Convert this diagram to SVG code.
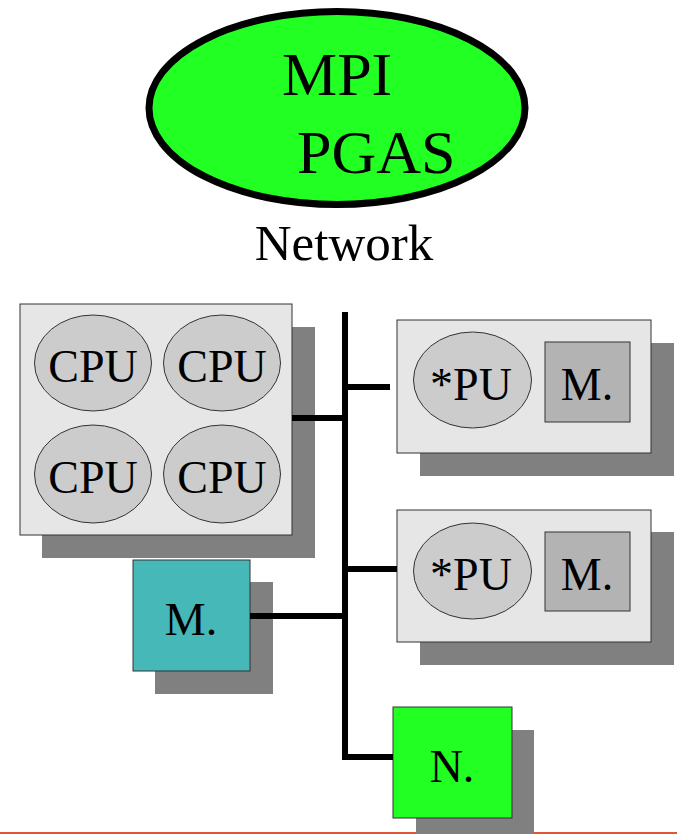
<svg xmlns="http://www.w3.org/2000/svg" width="677" height="834" viewBox="0 0 677 834">
<style>
.sh{fill:#808080}
.box{fill:#e6e6e6;stroke:#333;stroke-width:1}
.el{fill:#cccccc;stroke:#333;stroke-width:1}
.mem{fill:#b3b3b3;stroke:#333;stroke-width:1}
.wire{stroke:#000;stroke-width:6;fill:none}
</style>
<rect x="0" y="0" width="677" height="834" fill="#fff"/>
<rect x="0" y="832" width="677" height="2" fill="#e2553a"/>
<g id="mpi">
<ellipse cx="337" cy="108" rx="188" ry="96.5" fill="#22ff22" stroke="#000" stroke-width="7"/>
<text x="282" y="95" font-size="62" font-family="Liberation Serif, serif">MPI</text>
<text x="297" y="173" font-size="62" font-family="Liberation Serif, serif">PGAS</text>
</g>
<g id="network-label"><text x="344" y="260" font-size="51" text-anchor="middle" font-family="Liberation Serif, serif">Network</text></g>
<g id="cpu-node">
<rect class="sh" x="42" y="327" width="273" height="231"/>
<rect class="box" x="20" y="304" width="272" height="231"/>
<ellipse class="el" cx="93" cy="363" rx="58.5" ry="48"/>
<ellipse class="el" cx="222" cy="363" rx="58.5" ry="48"/>
<ellipse class="el" cx="93" cy="474" rx="58.5" ry="49"/>
<ellipse class="el" cx="222" cy="474" rx="58.5" ry="49"/>
<g font-family="Liberation Serif, serif" font-size="46" text-anchor="middle">
<text x="93" y="382">CPU</text>
<text x="222" y="382">CPU</text>
<text x="93" y="493">CPU</text>
<text x="222" y="493">CPU</text>
</g>
</g>
<g id="pu-node-1">
<rect class="sh" x="420" y="343" width="254" height="133"/>
<rect class="box" x="397" y="320" width="254" height="133"/>
<ellipse class="el" cx="472.5" cy="380" rx="59" ry="48"/>
<rect class="mem" x="545" y="342" width="85" height="80"/>
<g font-family="Liberation Serif, serif" font-size="46" text-anchor="middle">
<text x="471" y="400">*PU</text>
<text x="587" y="400">M.</text>
</g>
</g>
<g id="pu-node-2">
<rect class="sh" x="420" y="532" width="254" height="133"/>
<rect class="box" x="397" y="510" width="254" height="132"/>
<ellipse class="el" cx="472.5" cy="571" rx="59" ry="48"/>
<rect class="mem" x="545" y="532" width="85" height="79"/>
<g font-family="Liberation Serif, serif" font-size="46" text-anchor="middle">
<text x="471" y="590">*PU</text>
<text x="587" y="590">M.</text>
</g>
</g>
<g id="memory-node">
<rect class="sh" x="155" y="582" width="118" height="112"/>
<rect x="133" y="560" width="117" height="111" fill="#47b8b8" stroke="#333" stroke-width="1"/>
<text x="191" y="635" font-family="Liberation Serif, serif" font-size="46" text-anchor="middle">M.</text>
</g>
<g id="network-node">
<rect class="sh" x="416" y="730" width="118" height="104"/>
<rect x="393" y="707" width="119" height="111" fill="#22ff22" stroke="#333" stroke-width="1"/>
<text x="452" y="782" font-family="Liberation Serif, serif" font-size="46" text-anchor="middle">N.</text>
</g>
<g id="connectors">
<line class="wire" x1="345" y1="312" x2="345" y2="760"/>
<line class="wire" x1="292" y1="418" x2="345" y2="418"/>
<line class="wire" x1="345" y1="387" x2="390" y2="387"/>
<line class="wire" x1="345" y1="569" x2="397" y2="569"/>
<line class="wire" x1="250" y1="616" x2="345" y2="616"/>
<line class="wire" x1="342" y1="757" x2="393" y2="757"/>
</g>
</svg>
